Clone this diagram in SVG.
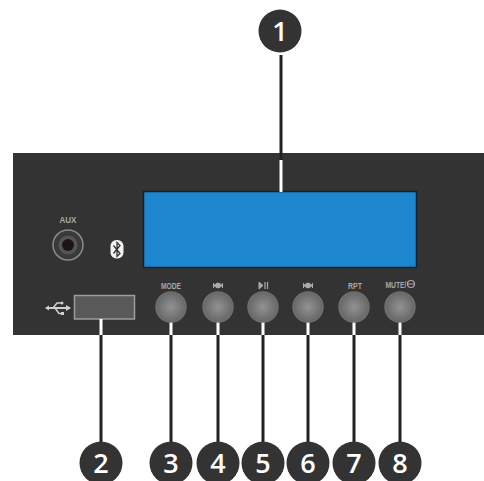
<svg xmlns="http://www.w3.org/2000/svg" width="484" height="481" viewBox="0 0 484 481">
<style>
.num{fill:#333333}
.numt{font-family:"Open Sans","Noto Sans",sans-serif;font-size:27px;font-weight:600;fill:#fff;text-anchor:middle}
.lab{font-family:"Liberation Sans",sans-serif;font-size:9px;font-weight:700;fill:#a8a8a8;text-anchor:middle}
.btn{fill:url(#b);stroke:#6e6e6e;stroke-width:1.5}
.k{stroke:#222;stroke-width:3;fill:none}
.w{stroke:#fff;stroke-width:3;fill:none}
</style>
<defs>
<radialGradient id="b"><stop offset="0" stop-color="#929292"/><stop offset="1" stop-color="#676767"/></radialGradient>
</defs>
<rect width="484" height="481" fill="#fff"/>
<g id="panel">
<rect x="13" y="153" width="471" height="182" fill="#333333"/>
</g>
<g id="display">
<rect x="143.500" y="191.500" width="273" height="76" fill="#1c87cf" stroke="#10202c" stroke-width="1.500"/>
</g>
<g id="aux">
<text class="lab" x="68" y="222.500" textLength="17" lengthAdjust="spacingAndGlyphs">AUX</text>
<circle cx="68" cy="245" r="15" fill="#3a3a3a" stroke="#8a8a8a" stroke-width="1.500"/>
<circle cx="68" cy="245" r="9.500" fill="#555"/>
<circle cx="68" cy="245" r="6" fill="#1d1415"/>
</g>
<g id="bluetooth">
<rect x="110.500" y="240" width="13" height="18.500" rx="6" fill="#f2f2f2"/>
<path d="M113.500 245.500 L120 253.500 L117 256.500 L117 242.500 L120 245.500 L113.500 253.500" fill="none" stroke="#333" stroke-width="1.300"/>
</g>
<g id="usb-symbol">
<path d="M46 308 H70" stroke="#cfcfcf" stroke-width="2" fill="none"/>
<path d="M53 308 L57 303 H61 M55 308 L59 313.500 H62" stroke="#cfcfcf" stroke-width="1.500" fill="none"/>
<path d="M45 308 L49 305.500 V310.500 Z M71 308 L66 311 V305 Z" fill="#cfcfcf"/>
<circle cx="62" cy="303" r="1.500" fill="#cfcfcf"/>
<rect x="61" y="312" width="3" height="3" fill="#cfcfcf"/>
</g>
<g id="usb-port">
<rect x="74.500" y="295.500" width="60" height="23.500" fill="#595959" stroke="#9c9c9c" stroke-width="1.500"/>
</g>
<g id="connectors">
<path class="k" d="M281 55 V160"/>
<path class="w" d="M281 160 V192"/>
<path class="w" d="M101 319 V335 M171 322 V335 M218 322 V335 M263 322 V335 M308 322 V335 M354 322 V335 M400 322 V335"/>
<path class="k" d="M101 335 V442 M171 335 V442 M218 335 V442 M263 335 V442 M308 335 V442 M354 335 V442 M400 335 V442"/>
</g>
<g id="btn-mode"><text class="lab" x="171" y="289" textLength="20" lengthAdjust="spacingAndGlyphs">MODE</text><circle class="btn" cx="171" cy="307" r="15"/></g>
<g id="btn-prev"><path d="M213.500 283 V288 M222.500 283 V288 M213.500 285.500 L217.500 283 V288 Z M222.500 285.500 L218.500 283 V288 Z" fill="#aaa" stroke="#aaa" stroke-width="1"/><circle class="btn" cx="218" cy="307" r="15"/></g>
<g id="btn-play"><path d="M259 282 L263 285.500 L259 289 Z" fill="#aaa" stroke="#aaa"/><path d="M265 282 V289 M267.500 282 V289" stroke="#aaa" stroke-width="1.200"/><circle class="btn" cx="263" cy="307" r="15"/></g>
<g id="btn-next"><path d="M303.500 283 V288 M312.500 283 V288 M312.500 285.500 L308.500 283 V288 Z M303.500 285.500 L307.500 283 V288 Z" fill="#aaa" stroke="#aaa" stroke-width="1"/><circle class="btn" cx="308" cy="307" r="15"/></g>
<g id="btn-rpt"><text class="lab" x="355" y="289" textLength="14" lengthAdjust="spacingAndGlyphs">RPT</text><circle class="btn" cx="354" cy="307" r="15"/></g>
<g id="btn-mute"><text class="lab" x="396" y="288" textLength="21" lengthAdjust="spacingAndGlyphs">MUTE/</text><circle cx="411" cy="284" r="3.500" fill="none" stroke="#aaa" stroke-width="1.200"/><path d="M407 284 H415" stroke="#aaa"/><circle class="btn" cx="400" cy="307" r="15"/></g>
<g id="n1"><circle class="num" cx="280" cy="31" r="21.500"/><text class="numt" x="280" y="41">1</text></g>
<g id="n2"><circle class="num" cx="101" cy="463" r="21.500"/><text class="numt" x="101" y="473">2</text></g>
<g id="n3"><circle class="num" cx="171" cy="463" r="21.500"/><text class="numt" x="171" y="473">3</text></g>
<g id="n4"><circle class="num" cx="218" cy="463" r="21.500"/><text class="numt" x="218" y="473">4</text></g>
<g id="n5"><circle class="num" cx="263" cy="463" r="21.500"/><text class="numt" x="263" y="473">5</text></g>
<g id="n6"><circle class="num" cx="308" cy="463" r="21.500"/><text class="numt" x="308" y="473">6</text></g>
<g id="n7"><circle class="num" cx="354" cy="463" r="21.500"/><text class="numt" x="354" y="473">7</text></g>
<g id="n8"><circle class="num" cx="400" cy="463" r="21.500"/><text class="numt" x="400" y="473">8</text></g>
</svg>
